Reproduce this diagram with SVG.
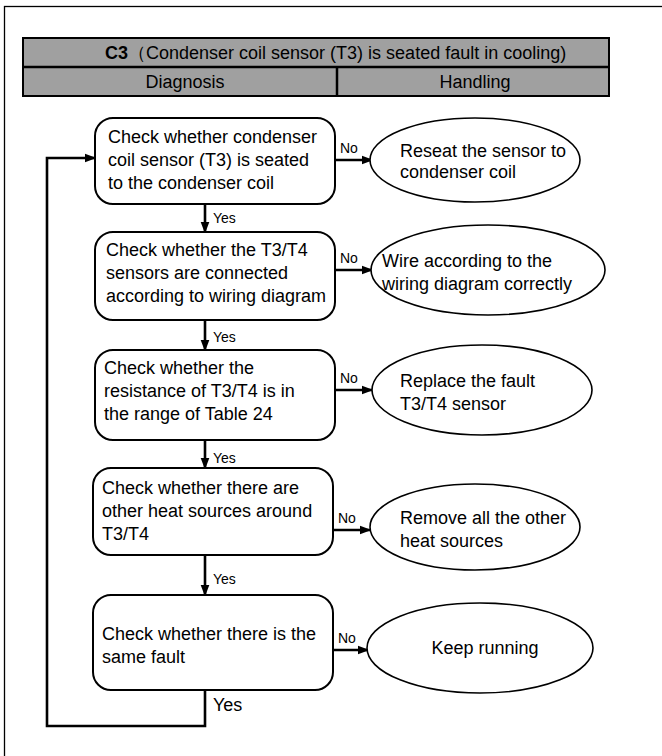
<svg xmlns="http://www.w3.org/2000/svg" width="662" height="756" viewBox="0 0 662 756">
<style>
text{font-family:"Liberation Sans",Arial,sans-serif;fill:#000}
.t{font-size:18px}
.s{font-size:14px}
.h{font-size:18px}
.box{fill:#fff;stroke:#000;stroke-width:2}
.ell{fill:#fff;stroke:#000;stroke-width:1.6}
.ln{fill:none;stroke:#000;stroke-width:2.6}
.hd{fill:#a0a0a0;stroke:#000;stroke-width:2}
</style>
<defs>
<marker id="ahd" markerWidth="12" markerHeight="16" refX="14" refY="6" orient="auto" markerUnits="userSpaceOnUse" viewBox="0 0 16 12">
<path d="M0,0 L16,6 L0,12 Z" fill="#000"/>
</marker>
</defs>
<rect x="4.5" y="6.5" width="700" height="800" fill="none" stroke="#000" stroke-width="1.3"/>
<g id="header">
<rect class="hd" x="23" y="38" width="586" height="58"/>
<line x1="23" y1="67" x2="609" y2="67" stroke="#000" stroke-width="2.5"/>
<line x1="337" y1="67" x2="337" y2="96" stroke="#000" stroke-width="2.5"/>
<text class="h" x="105" y="59"><tspan font-weight="bold">C3</tspan>（Condenser coil sensor (T3) is seated fault in cooling)</text>
<text class="h" x="185" y="88" text-anchor="middle">Diagnosis</text>
<text class="h" x="475" y="88" text-anchor="middle">Handling</text>
</g>
<g id="connectors">
<line class="ln" x1="205" y1="204" x2="205" y2="232" marker-end="url(#ahd)"/>
<line class="ln" x1="205" y1="320" x2="205" y2="350" marker-end="url(#ahd)"/>
<line class="ln" x1="205" y1="440" x2="205" y2="468" marker-end="url(#ahd)"/>
<line class="ln" x1="205" y1="555" x2="205" y2="595" marker-end="url(#ahd)"/>
<line class="ln" x1="335" y1="160" x2="372" y2="160" marker-end="url(#ahd)"/>
<line class="ln" x1="335" y1="270" x2="372" y2="270" marker-end="url(#ahd)"/>
<line class="ln" x1="335" y1="390" x2="372" y2="390" marker-end="url(#ahd)"/>
<line class="ln" x1="333" y1="530" x2="370" y2="530" marker-end="url(#ahd)"/>
<line class="ln" x1="333" y1="650" x2="368" y2="650" marker-end="url(#ahd)"/>
<polyline class="ln" points="205,690 205,726 47,726 47,158 95,158" marker-end="url(#ahd)"/>
<text class="s" x="213" y="223">Yes</text>
<text class="s" x="213" y="342">Yes</text>
<text class="s" x="213" y="463">Yes</text>
<text class="s" x="213" y="584">Yes</text>
<text class="t" x="213" y="711">Yes</text>
<text class="s" x="340" y="153">No</text>
<text class="s" x="340" y="263">No</text>
<text class="s" x="340" y="383">No</text>
<text class="s" x="338" y="523">No</text>
<text class="s" x="338" y="643">No</text>
</g>
<g id="n1">
<rect class="box" x="95" y="118" width="240" height="86" rx="18"/>
<text class="t" x="108" y="143">Check whether condenser</text>
<text class="t" x="108" y="166">coil sensor (T3) is seated</text>
<text class="t" x="108" y="189">to the condenser coil</text>
</g>
<g id="e1">
<ellipse class="ell" cx="475" cy="160" rx="105" ry="42"/>
<text class="t" x="400" y="157">Reseat the sensor to</text>
<text class="t" x="400" y="178">condenser coil</text>
</g>
<g id="n2">
<rect class="box" x="95" y="232" width="240" height="88" rx="18"/>
<text class="t" x="106" y="256">Check whether the T3/T4</text>
<text class="t" x="106" y="279">sensors are connected</text>
<text class="t" x="106" y="302">according to wiring diagram</text>
</g>
<g id="e2">
<ellipse class="ell" cx="488" cy="270" rx="117" ry="45"/>
<text class="t" x="382" y="267">Wire according to the</text>
<text class="t" x="382" y="290">wiring diagram correctly</text>
</g>
<g id="n3">
<rect class="box" x="95" y="350" width="240" height="90" rx="18"/>
<text class="t" x="104" y="374">Check whether the</text>
<text class="t" x="104" y="397">resistance of T3/T4 is in</text>
<text class="t" x="104" y="420">the range of Table 24</text>
</g>
<g id="e3">
<ellipse class="ell" cx="482" cy="390" rx="110" ry="45"/>
<text class="t" x="400" y="387">Replace the fault</text>
<text class="t" x="400" y="410">T3/T4 sensor</text>
</g>
<g id="n4">
<rect class="box" x="93" y="468" width="240" height="87" rx="18"/>
<text class="t" x="102" y="494">Check whether there are</text>
<text class="t" x="102" y="517">other heat sources around</text>
<text class="t" x="102" y="540">T3/T4</text>
</g>
<g id="e4">
<ellipse class="ell" cx="475" cy="527" rx="105" ry="43"/>
<text class="t" x="400" y="524">Remove all the other</text>
<text class="t" x="400" y="547">heat sources</text>
</g>
<g id="n5">
<rect class="box" x="93" y="595" width="240" height="95" rx="18"/>
<text class="t" x="102" y="640">Check whether there is the</text>
<text class="t" x="102" y="663">same fault</text>
</g>
<g id="e5">
<ellipse class="ell" cx="480" cy="648" rx="113" ry="45"/>
<text class="t" x="485" y="654" text-anchor="middle">Keep running</text>
</g>
</svg>
